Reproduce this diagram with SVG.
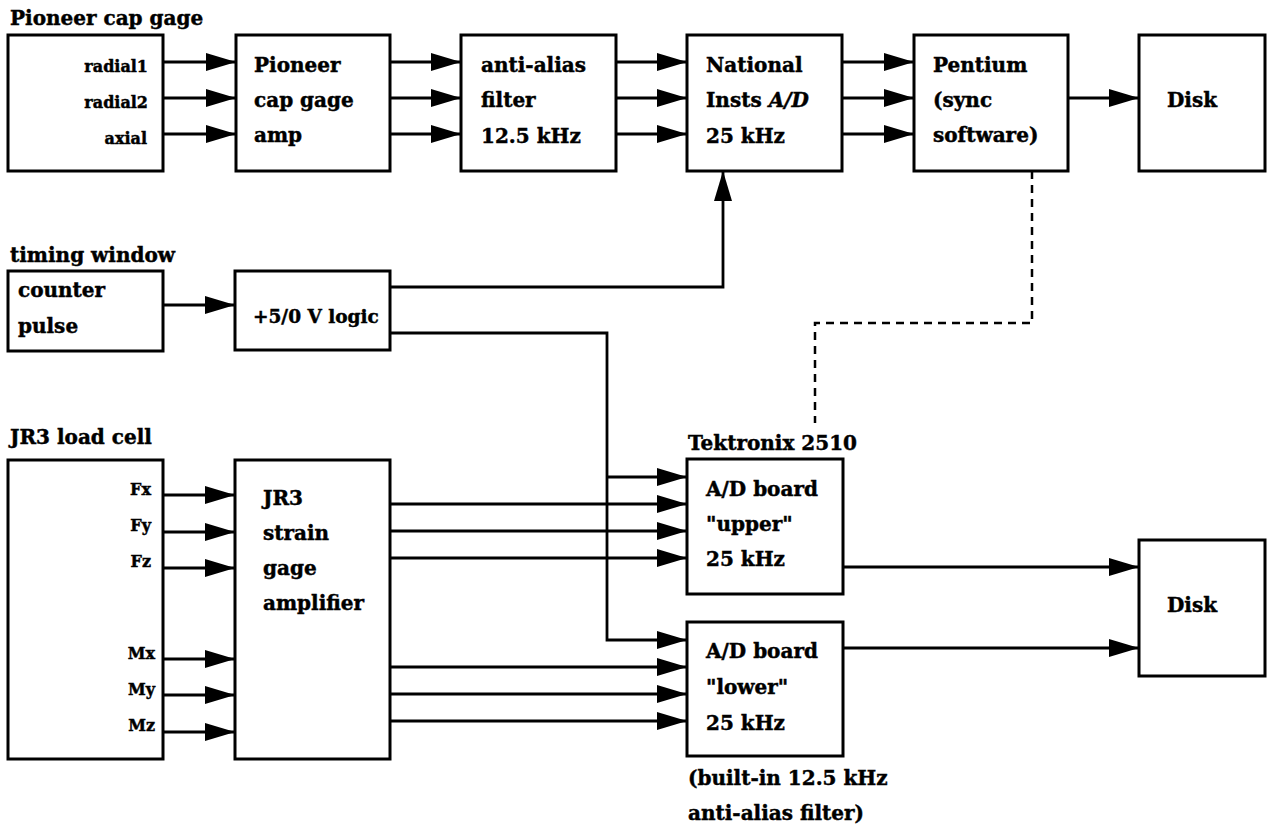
<svg xmlns="http://www.w3.org/2000/svg" width="1274" height="827" viewBox="0 0 1274 827">
<style>
  text { font-family: "DejaVu Serif", "Liberation Serif", serif; font-weight: bold; fill: #000; stroke: #000; stroke-width: 0.45; }
  .t { font-size: 20px; }
  .p { font-size: 16px; text-anchor: end; }
  .box { fill: #fff; stroke: #000; stroke-width: 3; }
  .c { fill: none; stroke: #000; stroke-width: 2.8; }
  .a { marker-end: url(#ah); }
  .d { fill: none; stroke: #000; stroke-width: 2.5; stroke-dasharray: 8 6; }
</style>
<defs>
  <marker id="ah" markerUnits="userSpaceOnUse" markerWidth="32" markerHeight="20" refX="30" refY="9" orient="auto" overflow="visible">
    <path d="M0,0 L30,9 L0,18 z" fill="#000"/>
  </marker>
</defs>
<rect width="1274" height="827" fill="#fff"/>

<g id="connectors">
  <path class="c a" d="M163,62 H236"/>
  <path class="c a" d="M163,98 H236"/>
  <path class="c a" d="M163,134 H236"/>
  <path class="c a" d="M390,62 H461"/>
  <path class="c a" d="M390,98 H461"/>
  <path class="c a" d="M390,134 H461"/>
  <path class="c a" d="M616,62 H687"/>
  <path class="c a" d="M616,98 H687"/>
  <path class="c a" d="M616,134 H687"/>
  <path class="c a" d="M842,62 H914"/>
  <path class="c a" d="M842,98 H914"/>
  <path class="c a" d="M842,134 H914"/>
  <path class="c a" d="M1068,98 H1139"/>
  <path class="c a" d="M163,305 H235"/>
  <path class="c a" d="M390,287 H723 V171"/>
  <path class="c a" d="M390,333 H607 V640 H687"/>
  <path class="c a" d="M607,477 H687"/>
  <path class="c a" d="M163,495 H235"/>
  <path class="c a" d="M163,532 H235"/>
  <path class="c a" d="M163,568 H235"/>
  <path class="c a" d="M163,659 H235"/>
  <path class="c a" d="M163,695 H235"/>
  <path class="c a" d="M163,732 H235"/>
  <path class="c a" d="M390,504 H687"/>
  <path class="c a" d="M390,531 H687"/>
  <path class="c a" d="M390,558 H687"/>
  <path class="c a" d="M390,667 H687"/>
  <path class="c a" d="M390,694 H687"/>
  <path class="c a" d="M390,721 H687"/>
  <path class="c a" d="M843,567 H1139"/>
  <path class="c a" d="M843,648 H1139"/>
  <path class="d" d="M1032,171 V323 H815 V423"/>
</g>

<g id="pioneer-gage">
  <text class="t" x="10" y="25">Pioneer cap gage</text>
  <rect class="box" x="8" y="35" width="155" height="136"/>
  <text class="p" x="148" y="72">radial1</text>
  <text class="p" x="148" y="108">radial2</text>
  <text class="p" x="147" y="144">axial</text>
</g>
<g id="pioneer-amp">
  <rect class="box" x="236" y="35" width="154" height="136"/>
  <text class="t" x="254" y="72">Pioneer</text>
  <text class="t" x="254" y="107">cap gage</text>
  <text class="t" x="254" y="142">amp</text>
</g>
<g id="anti-alias">
  <rect class="box" x="461" y="35" width="155" height="136"/>
  <text class="t" x="481" y="72">anti-alias</text>
  <text class="t" x="481" y="107">filter</text>
  <text class="t" x="481" y="143">12.5 kHz</text>
</g>
<g id="national">
  <rect class="box" x="687" y="35" width="155" height="136"/>
  <text class="t" x="706" y="72">National</text>
  <text class="t" x="706" y="107">Insts <tspan font-style="italic">A/D</tspan></text>
  <text class="t" x="706" y="143">25 kHz</text>
</g>
<g id="pentium">
  <rect class="box" x="914" y="35" width="154" height="136"/>
  <text class="t" x="933" y="72">Pentium</text>
  <text class="t" x="933" y="107">(sync</text>
  <text class="t" x="933" y="142">software)</text>
</g>
<g id="disk1">
  <rect class="box" x="1139" y="35" width="126" height="136"/>
  <text class="t" x="1167" y="107">Disk</text>
</g>

<g id="timing-window">
  <text class="t" x="10" y="262">timing window</text>
  <rect class="box" x="8" y="271" width="155" height="80"/>
  <text class="t" x="18" y="297">counter</text>
  <text class="t" x="18" y="333">pulse</text>
</g>
<g id="logic">
  <rect class="box" x="235" y="271" width="155" height="79"/>
  <text class="t" x="253" y="323" style="font-size:18.5px">+5/0 V logic</text>
</g>

<g id="jr3-cell">
  <text class="t" x="10" y="444">JR3 load cell</text>
  <rect class="box" x="8" y="460" width="155" height="299"/>
  <text class="p" x="151" y="495">Fx</text>
  <text class="p" x="151" y="531">Fy</text>
  <text class="p" x="151" y="567">Fz</text>
  <text class="p" x="155" y="659">Mx</text>
  <text class="p" x="155" y="695">My</text>
  <text class="p" x="155" y="731">Mz</text>
</g>
<g id="jr3-amp">
  <rect class="box" x="235" y="460" width="155" height="299"/>
  <text class="t" x="263" y="505">JR3</text>
  <text class="t" x="263" y="540">strain</text>
  <text class="t" x="263" y="575">gage</text>
  <text class="t" x="263" y="610">amplifier</text>
</g>

<g id="ad-upper">
  <text class="t" x="688" y="450">Tektronix 2510</text>
  <rect class="box" x="687" y="459" width="156" height="135"/>
  <text class="t" x="706" y="496">A/D board</text>
  <text class="t" x="706" y="531">"upper"</text>
  <text class="t" x="706" y="566">25 kHz</text>
</g>
<g id="ad-lower">
  <rect class="box" x="687" y="622" width="156" height="134"/>
  <text class="t" x="706" y="658">A/D board</text>
  <text class="t" x="706" y="694">"lower"</text>
  <text class="t" x="706" y="730">25 kHz</text>
  <text class="t" x="688" y="785">(built-in 12.5 kHz</text>
  <text class="t" x="688" y="820">anti-alias filter)</text>
</g>
<g id="disk2">
  <rect class="box" x="1139" y="540" width="126" height="136"/>
  <text class="t" x="1167" y="612">Disk</text>
</g>
</svg>
